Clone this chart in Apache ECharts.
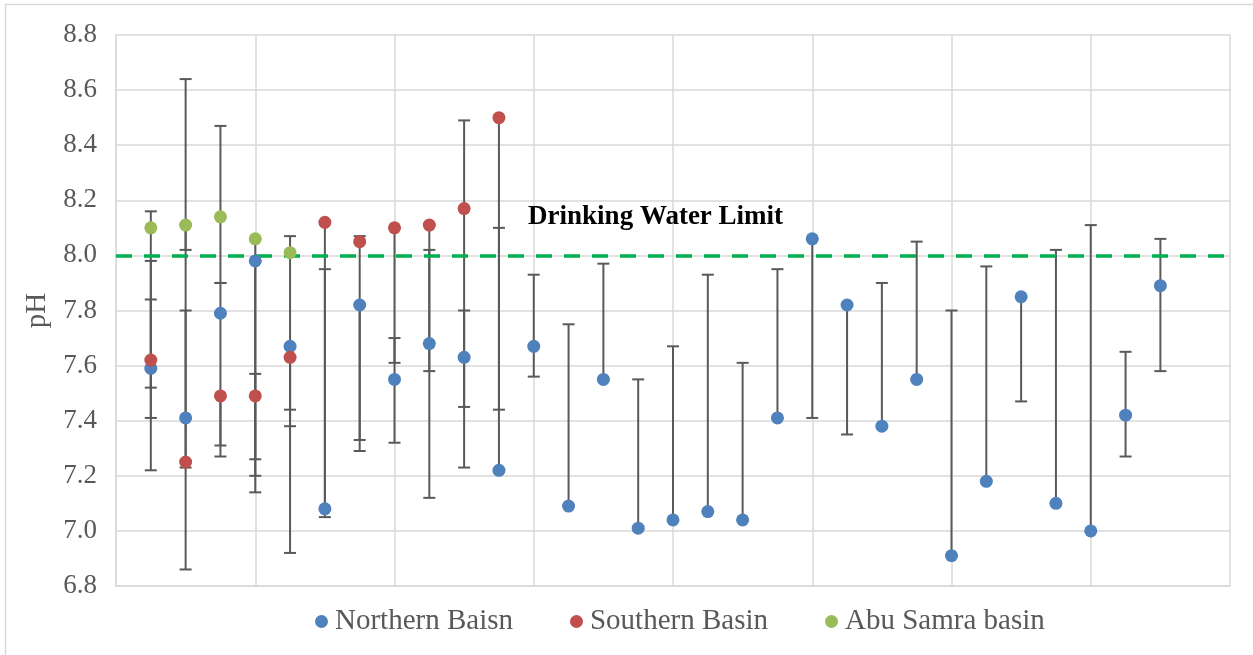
<!DOCTYPE html>
<html>
<head>
<meta charset="utf-8">
<script src="https://cdn.jsdelivr.net/npm/echarts@6/dist/echarts.min.js"></script>
<style>
  html, body { margin: 0; padding: 0; background: #fff; }
  #chart { width: 1253px; height: 655px; }
</style>
</head>
<body>
<div id="chart"></div>
<script>
// Well numbers along the horizontal axis (no labels drawn)
const northernSites = [1,2,3,4,5,6,7,8,9,10,11,12,13,14,15,16,17,18,19,20,21,22,23,24,25,26,27,28,29,30];
const southernSites = [1,2,3,4,5,6,7,8,9,10,11];
const abuSamraSites = [1,2,3,4,5];

// pH values and their ranges (low / high ends of each bar)
const northernPH   = [7.59,7.41,7.79,7.98,7.67,7.08,7.82,7.55,7.68,7.63,7.22,7.67,7.09,7.55,7.01,7.04,7.07,7.04,7.41,8.06,7.82,7.38,7.55,6.91,7.18,7.85,7.10,7.00,7.42,7.89];
const northernLow  = [7.41,6.86,7.31,7.20,7.38,7.08,7.33,7.32,7.58,7.45,7.22,7.56,7.09,7.55,7.01,7.04,7.07,7.04,7.41,7.41,7.35,7.38,7.55,6.91,7.18,7.47,7.10,7.00,7.27,7.58];
const northernHigh = [7.84,8.11,7.90,7.98,7.67,7.95,7.82,7.70,8.02,7.80,8.10,7.93,7.75,7.97,7.55,7.67,7.93,7.61,7.95,8.06,7.82,7.90,8.05,7.80,7.96,7.85,8.02,8.11,7.65,8.06];

const southernPH   = [7.62,7.25,7.49,7.49,7.63,8.12,8.05,8.10,8.11,8.17,8.50];
const southernLow  = [7.22,7.23,7.27,7.26,6.92,7.05,7.29,7.61,7.12,7.23,7.44];
const southernHigh = [7.98,7.80,7.49,7.57,7.63,8.12,8.07,8.10,8.11,8.49,8.50];

const abuSamraPH   = [8.10,8.11,8.14,8.06,8.01];
const abuSamraLow  = [7.52,8.02,7.90,7.14,7.44];
const abuSamraHigh = [8.16,8.64,8.47,8.06,8.07];

const seriesNames = ['Northern Baisn', 'Southern Basin', 'Abu Samra basin'];
const seriesColors = ['#4f81bd', '#c0504d', '#9bbb59'];

const limitPH = 8.0;
const limitText = 'Drinking Water Limit';
const limitTextAt = [15.5, 8.14];

const serif = '"Liberation Serif", "DejaVu Serif", serif';

function pairs(xs, ys) { return xs.map((x, i) => [x, ys[i]]); }
function ranges(xs, lo, hi) { return xs.map((x, i) => [x, lo[i], hi[i]]); }

// Vertical range bar with a short cap at each end
function rangeBar(params, api) {
  const x = api.value(0);
  const top = api.coord([x, api.value(2)]);
  const bot = api.coord([x, api.value(1)]);
  const half = 6;
  const style = { stroke: '#595959', lineWidth: 2 };
  return {
    type: 'group',
    children: [
      { type: 'line', shape: { x1: top[0], y1: top[1], x2: bot[0], y2: bot[1] }, style },
      { type: 'line', shape: { x1: top[0] - half, y1: top[1], x2: top[0] + half, y2: top[1] }, style },
      { type: 'line', shape: { x1: bot[0] - half, y1: bot[1], x2: bot[0] + half, y2: bot[1] }, style }
    ]
  };
}

function barSeries(name, data) {
  return {
    name: name + ' range', type: 'custom', renderItem: rangeBar, data: data,
    encode: { x: 0, y: [1, 2] }, z: 2, silent: true
  };
}

function pointSeries(name, color, data, extra) {
  return Object.assign({
    name: name, type: 'scatter', data: data, symbol: 'circle', symbolSize: 13,
    itemStyle: { color: color, opacity: 1 }, z: 5
  }, extra || {});
}

const chart = echarts.init(document.getElementById('chart'), null, { renderer: 'canvas' });

chart.setOption({
  animation: false,
  backgroundColor: '#ffffff',
  grid: { left: 116, right: 23, top: 35, bottom: 69 },
  graphic: [{
    type: 'rect', silent: true, z: 0,
    shape: { x: 5.5, y: 4.5, width: 1260, height: 670 },
    style: { fill: 'none', stroke: '#d9d9d9', lineWidth: 1.5 }
  }],
  legend: {
    data: seriesNames,
    left: 310, bottom: 14,
    icon: 'circle', itemWidth: 13, itemHeight: 13, itemGap: 57,
    textStyle: { fontFamily: serif, fontSize: 29, color: '#595959', padding: [0, 0, 0, 2] }
  },
  xAxis: {
    type: 'value', min: 0, max: 32, interval: 4,
    axisLine: { show: true, lineStyle: { color: '#d9d9d9', width: 1.5 } },
    axisTick: { show: false }, axisLabel: { show: false },
    splitLine: { show: true, lineStyle: { color: '#d9d9d9', width: 1.5 } }
  },
  yAxis: {
    type: 'value', min: 6.8, max: 8.8, interval: 0.2,
    name: 'pH', nameLocation: 'middle', nameGap: 64, nameRotate: 90,
    nameTextStyle: { fontFamily: serif, fontSize: 29, color: '#595959' },
    axisLine: { show: true, lineStyle: { color: '#d9d9d9', width: 1.5 } },
    axisTick: { show: false },
    axisLabel: { fontFamily: serif, fontSize: 27, color: '#595959', margin: 19,
      formatter: v => v.toFixed(1) },
    splitLine: { show: true, lineStyle: { color: '#d9d9d9', width: 1.5 } }
  },
  series: [
    barSeries(seriesNames[0], ranges(northernSites, northernLow, northernHigh)),
    barSeries(seriesNames[1], ranges(southernSites, southernLow, southernHigh)),
    barSeries(seriesNames[2], ranges(abuSamraSites, abuSamraLow, abuSamraHigh)),
    pointSeries(seriesNames[0], seriesColors[0], pairs(northernSites, northernPH), {
      markLine: {
        silent: true, symbol: 'none', z: 4,
        lineStyle: { color: '#00b050', width: 3.5, type: [16, 12] },
        label: { show: false },
        data: [{ yAxis: limitPH }]
      },
      markPoint: {
        silent: true, symbol: 'circle', symbolSize: 0,
        label: { show: true, position: 'inside', formatter: limitText,
          fontFamily: serif, fontSize: 27, fontWeight: 'bold', color: '#000' },
        data: [{ coord: limitTextAt }]
      }
    }),
    pointSeries(seriesNames[1], seriesColors[1], pairs(southernSites, southernPH)),
    pointSeries(seriesNames[2], seriesColors[2], pairs(abuSamraSites, abuSamraPH))
  ]
});
</script>
</body>
</html>
